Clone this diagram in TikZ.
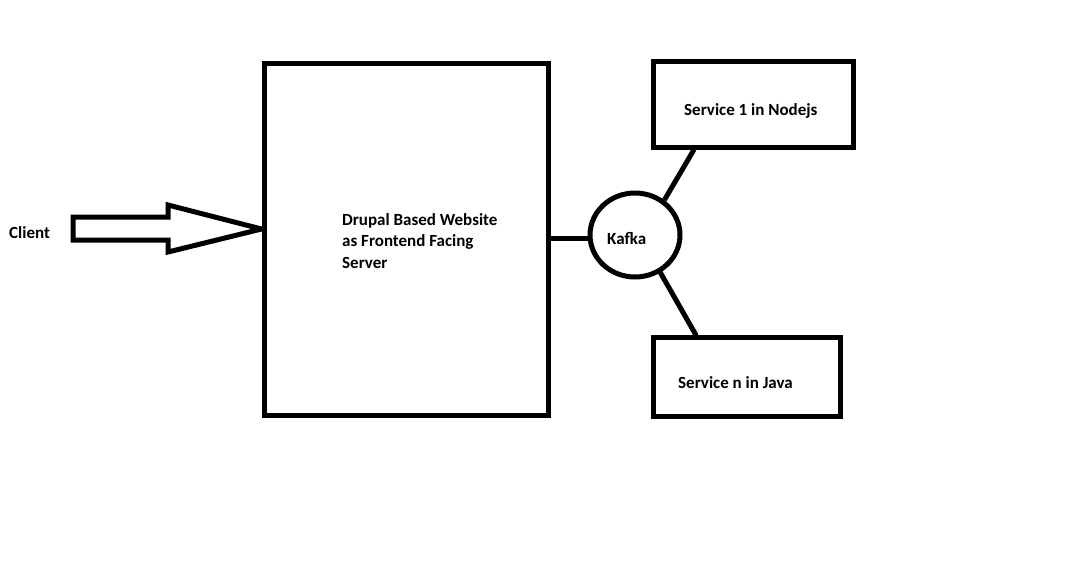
\documentclass[tikz,border=0pt]{standalone}
\usepackage{fontspec}
\setmainfont{Carlito}
\usetikzlibrary{shapes.geometric,calc}
\begin{document}
\begin{tikzpicture}[x=1pt,y=-1pt,
  thick line/.style={line width=5pt},
  boxnode/.style={draw,thick line,rectangle,inner sep=0pt},
  lbl/.style={font=\fontsize{17}{21.5}\selectfont\bfseries,inner sep=0pt,anchor=west,align=left}]
\useasboundingbox (0,0) rectangle (1088,579);
\fill[white] (0,0) rectangle (1088,579);
% boxes
\node[boxnode,minimum width=284pt,minimum height=351.5pt] (drupal) at (406,239.25) {};
\node[boxnode,minimum width=200pt,minimum height=86pt] (s1) at (753.5,104) {};
\node[boxnode,minimum width=187pt,minimum height=79pt] (s2) at (746.5,376.5) {};
\node[draw,thick line,ellipse,minimum width=90pt,minimum height=84pt,inner sep=0pt] (kafka) at (635,235) {};
% texts
\node[lbl] (clientlbl) at (9,233) {Client};
\node[lbl] (drupallbl) at (342,241) {Drupal Based Website\\as Frontend Facing\\Server};
\node[lbl] (kafkalbl) at (607,238) {Kafka};
\node[lbl] (s1lbl) at (684,111) {Service 1 in Nodejs};
\node[lbl] (s2lbl) at (678,383) {Service n in Java};
% client arrow
\coordinate (arrowtail) at (73,228.5);
\coordinate (arrowtip) at (drupal.west |- 0,229);
\draw[thick line,line join=miter,miter limit=2] (arrowtail) ++(0,-11.5) -- (168,217) -- (168,205) -- (arrowtip) -- (168,252) -- (168,240) -- (73,240) -- cycle;
% connectors
\draw[thick line,line cap=round] (drupal.east |- 0,238) -- (kafka.west |- 0,238);
\draw[thick line] (kafka.50) -- ($(s1.south west)!0.21!(s1.south east)$);
\draw[thick line,line cap=round] (kafka.-56) -- ($(s2.north west)!0.235!(s2.north east)$);
\end{tikzpicture}
\end{document}
